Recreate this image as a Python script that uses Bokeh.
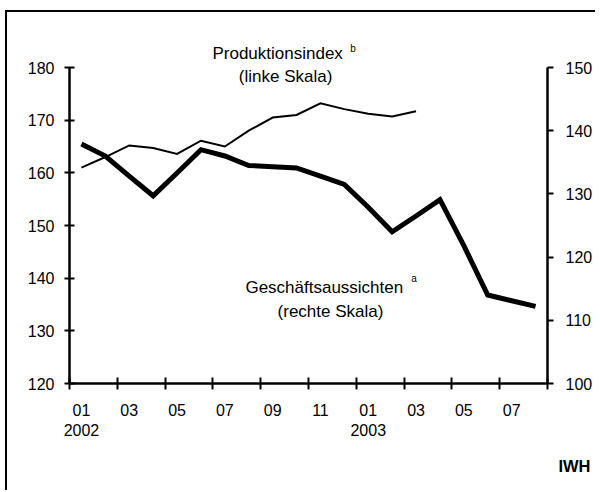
from bokeh.plotting import figure
from bokeh.models import Range1d, LinearAxis, FixedTicker, Label, ColumnDataSource, Title
from bokeh.embed import file_html
from bokeh.resources import INLINE

months = ["2002-01", "2002-02", "2002-03", "2002-04", "2002-05", "2002-06",
          "2002-07", "2002-08", "2002-09", "2002-10", "2002-11", "2002-12",
          "2003-01", "2003-02", "2003-03", "2003-04", "2003-05", "2003-06",
          "2003-07", "2003-08"]
# Produktionsindex (linke Skala), Jan 2002 - Mar 2003
produktion = [161.0, 163.0, 165.2, 164.7, 163.6, 166.1, 165.0, 168.0,
              170.5, 171.0, 173.2, 172.1, 171.2, 170.7, 171.7]
# Geschaeftsaussichten (rechte Skala), Jan 2002 - Aug 2003
aussichten = [137.9, 136.0, 132.8, 129.7, 133.3, 137.0, 136.0, 134.5,
              134.3, 134.1, 132.8, 131.5, 127.9, 124.0, 126.5, 129.1,
              121.8, 114.0, 113.1, 112.2]
x_tick_labels = ["01\n2002", "03", "05", "07", "09", "11",
                 "01\n2003", "03", "05", "07"]
left_ticks = [120, 130, 140, 150, 160, 170, 180]
right_ticks = [100, 110, 120, 130, 140, 150]

FONT = "Liberation Sans"
n = len(months)
x_all = list(range(n))

# layout (pixels)
AXIS_H = 316          # pixel height of the scaled axis span
EXTRA = 35            # room above the axes for the annotation text
scale = (AXIS_H + EXTRA) / AXIS_H
l_lo, l_hi = left_ticks[0], left_ticks[-1]
r_lo, r_hi = right_ticks[0], right_ticks[-1]

src_p = ColumnDataSource(dict(x=x_all[:len(produktion)], y=produktion))
src_a = ColumnDataSource(dict(x=x_all[:len(aussichten)], y=aussichten))

p = figure(width=590, height=480, output_backend="svg", toolbar_location=None,
           x_range=Range1d(-0.5, n - 0.5),
           y_range=Range1d(l_lo, l_lo + (l_hi - l_lo) * scale),
           min_border_left=62, min_border_right=50,
           min_border_top=20, min_border_bottom=109,
           styles={"margin-left": "5px", "margin-top": "10px",
                   "border-left": "2px solid black",
                   "border-top": "2px solid black"})
p.extra_y_ranges = {"right": Range1d(r_lo, r_lo + (r_hi - r_lo) * scale)}

p.xgrid.visible = False
p.ygrid.visible = False
p.outline_line_color = None
p.background_fill_color = "white"
p.border_fill_color = "white"

# x axis
xa = p.xaxis[0]
major = list(range(0, n, 2))
minor = [k - 0.5 for k in range(0, n + 1, 2)]
xa.ticker = FixedTicker(ticks=major, minor_ticks=minor)
xa.major_label_overrides = {m: lab for m, lab in zip(major, x_tick_labels)}
xa.major_tick_line_color = None
xa.major_tick_in = 0
xa.major_tick_out = 0
xa.minor_tick_line_color = "black"
xa.minor_tick_line_width = 2
xa.minor_tick_in = 6
xa.minor_tick_out = 6
xa.axis_line_width = 2.5
xa.major_label_standoff = 12
xa.major_label_text_font = FONT
xa.major_label_text_font_size = "16px"
xa.major_label_text_color = "black"

# left axis
ya = p.yaxis[0]
ya.ticker = FixedTicker(ticks=left_ticks)
ya.bounds = (l_lo, l_hi)
ya.minor_tick_line_color = None
ya.major_tick_in = 5
ya.major_tick_out = 5
ya.major_tick_line_width = 2
ya.axis_line_width = 2.5
ya.major_label_standoff = 10
ya.major_label_text_font = FONT
ya.major_label_text_font_size = "16px"
ya.major_label_text_color = "black"

# right axis
ra = LinearAxis(y_range_name="right", ticker=FixedTicker(ticks=right_ticks),
                bounds=(r_lo, r_hi))
ra.minor_tick_line_color = None
ra.major_tick_in = 0
ra.major_tick_out = 6
ra.major_tick_line_width = 2
ra.axis_line_width = 2.5
ra.major_label_standoff = 12
ra.major_label_text_font = FONT
ra.major_label_text_font_size = "16px"
ra.major_label_text_color = "black"
p.add_layout(ra, "right")

p.line("x", "y", source=src_p, line_width=2, line_color="black", line_join="miter")
p.line("x", "y", source=src_a, line_width=5, line_color="black", line_join="miter",
       y_range_name="right")

def lab(text, x, y, size="17px", align="left", baseline="alphabetic"):
    p.add_layout(Label(x=x, y=y, text=text, text_font=FONT, text_font_size=size,
                       text_align=align, text_baseline=baseline, text_color="black"))

lab("Produktionsindex", 5.48, 182.7)
lab("b", 11.25, 184.6, size="10px", baseline="top")
lab("(linke Skala)", 8.54, 178.35, align="center")
lab("Geschäftsaussichten", 6.86, 138.3)
lab("a", 13.8, 140.9, size="10px", baseline="top")
lab("(rechte Skala)", 10.42, 133.7, align="center")

p.add_layout(Title(text="IWH", align="right", text_font=FONT, text_font_size="16.5px",
                   text_font_style="bold", text_color="black", vertical_align="top",
                   offset=-43, standoff=31), "below")

open("out.html", "w").write(file_html(p, INLINE))
